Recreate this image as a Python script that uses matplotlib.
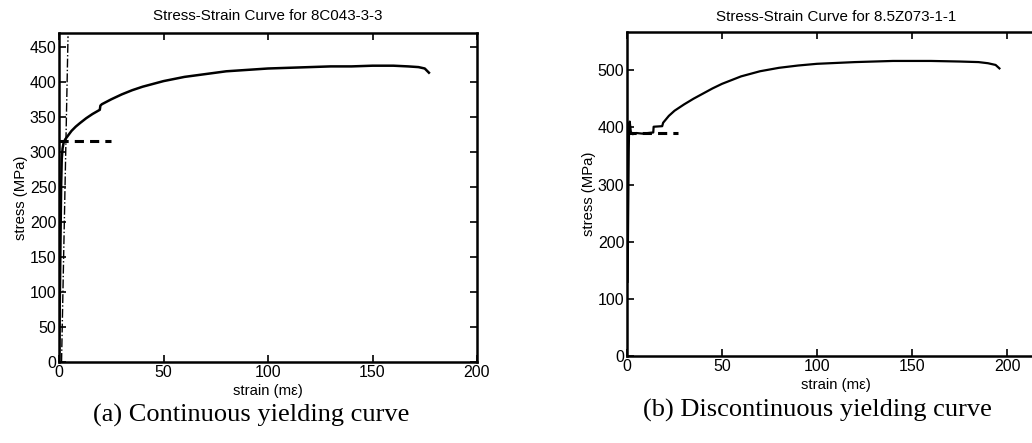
import matplotlib.pyplot as plt

# (a) continuous yielding, specimen 8C043-3-3
strain_a = [0, 0.5, 0.8, 1.0, 1.3, 1.7, 2.2, 3, 4, 5, 6, 8, 10, 13, 16, 19.5, 19.8, 20.5, 25, 30,
            35, 40, 45, 50, 60, 70, 80, 90, 100, 110, 120, 130, 140, 150, 160, 167, 172, 175, 177]
stress_a = [0, 120, 200, 250, 290, 305, 313, 318, 322, 326, 330, 336, 341, 348, 354, 360, 366, 368, 375, 382,
            388, 393, 397, 401, 407, 411, 415, 417, 419, 420, 421, 422, 422, 423, 423, 422, 421, 419, 413]
offset_a_x = [1.2, 4.3]
offset_a_y = [0, 465]
yield_a_x = [0, 25]
yield_a_y = [315, 315]

# (b) discontinuous yielding, specimen 8.5Z073-1-1
strain_b = [0.3, 0.6, 0.9, 1.1, 1.4, 2, 3, 5, 8, 11, 13.8, 14, 18.5, 19, 20, 22, 25, 30,
            35, 40, 45, 50, 60, 70, 80, 90, 100, 120, 140, 150, 160, 175, 185, 190, 194, 196]
stress_b = [130, 250, 360, 405, 410, 392, 388, 390, 389, 390, 391, 401, 402, 408, 412, 420, 429, 440,
            450, 459, 468, 476, 489, 498, 504, 508, 511, 514, 516, 516, 516, 515, 514, 512, 509, 503]
yield_b_x = [0, 27]
yield_b_y = [390, 390]

fig = plt.figure(figsize=(10.32, 4.43), dpi=100)
plt.rcParams['font.family'] = 'Liberation Sans'

ax1 = fig.add_axes([0.0572, 0.183, 0.405, 0.743])
ax1.plot(strain_a, stress_a, color='black', linewidth=1.8)
ax1.plot(offset_a_x, offset_a_y, color='black', linewidth=1.0, linestyle='-.')
ax1.plot(yield_a_x, yield_a_y, color='black', linewidth=2.2, linestyle=(0, (3, 2)))
ax1.set_xlim(0, 200)
ax1.set_ylim(0, 470)
ax1.set_xticks([0, 50, 100, 150, 200])
ax1.set_yticks(range(0, 451, 50))
ax1.set_title('Stress-Strain Curve for 8C043-3-3', fontsize=10.9, pad=9)
ax1.set_xlabel('strain (m\u03b5)', fontsize=10.7, labelpad=3)
ax1.set_ylabel('stress (MPa)', fontsize=10.7, labelpad=1)

ax2 = fig.add_axes([0.6076, 0.196, 0.405, 0.731])
ax2.plot(strain_b, stress_b, color='black', linewidth=1.6)
ax2.plot(yield_b_x, yield_b_y, color='black', linewidth=2.2, linestyle=(0, (3, 2)))
ax2.set_xlim(0, 220)
ax2.set_ylim(0, 566)
ax2.set_xticks([0, 50, 100, 150, 200])
ax2.set_yticks([0, 100, 200, 300, 400, 500])
ax2.set_title('Stress-Strain Curve for 8.5Z073-1-1', fontsize=10.9, pad=8)
ax2.set_xlabel('strain (m\u03b5)', fontsize=10.7, labelpad=3)
ax2.set_ylabel('stress (MPa)', fontsize=10.7, labelpad=1)

for ax in (ax1, ax2):
    ax.tick_params(direction='in', top=True, right=True, length=5, width=1.2,
                   labelsize=11.5, pad=2)
    for s in ax.spines.values():
        s.set_linewidth(1.8)

fig.text(0.243, 0.062, '(a) Continuous yielding curve', fontsize=19,
         family='Liberation Serif', ha='center', va='center')
fig.text(0.792, 0.074, '(b) Discontinuous yielding curve', fontsize=19,
         family='Liberation Serif', ha='center', va='center')

plt.savefig('out.png', dpi=100)
